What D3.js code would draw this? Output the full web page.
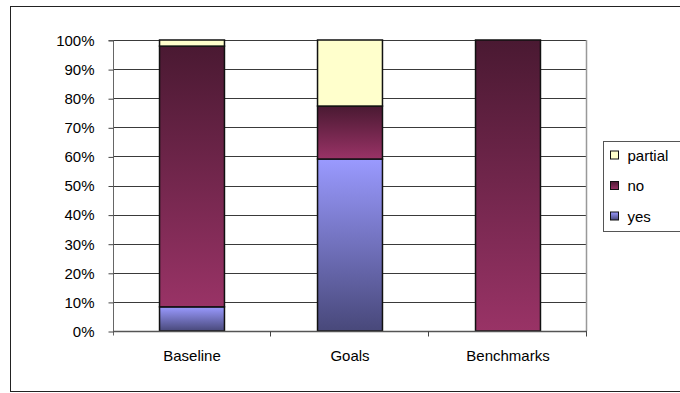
<!DOCTYPE html>
<html>
<head>
<meta charset="utf-8">
<script src="https://cdn.jsdelivr.net/npm/d3@7/dist/d3.min.js"></script>
<style>
  html, body { margin: 0; padding: 0; background: #fff; }
  svg { display: block; font-family: "Liberation Sans", Arial, sans-serif; }
</style>
</head>
<body>
<svg id="chart" width="680" height="393"></svg>
<script>
// Share of answers per section (percent, stacked to 100%)
const categories = ["Baseline", "Goals", "Benchmarks"];
const seriesNames = ["yes", "no", "partial"];
const yesValues = [8.3, 59.1, 0];
const noValues = [89.6, 18.2, 100];
const partialValues = [2.1, 22.7, 0];
const yTicks = [0, 10, 20, 30, 40, 50, 60, 70, 80, 90, 100];
const legendOrder = ["partial", "no", "yes"];

const rows = categories.map((c, i) => ({
  category: c, yes: yesValues[i], no: noValues[i], partial: partialValues[i]
}));

const svg = d3.select("#chart");
const plot = { left: 113, right: 587, top: 40, bottom: 331 };

// Chart frame
svg.append("rect")
  .attr("x", 10.5).attr("y", 6.5)
  .attr("width", 720).attr("height", 385)
  .attr("fill", "#fff").attr("stroke", "#222").attr("stroke-width", 1);

const defs = svg.append("defs");
const gradients = {
  yes: ["#9a9aff", "#48487a"],
  no: ["#4a1932", "#993366"]
};
Object.entries(gradients).forEach(([key, [top, bottom]]) => {
  const g = defs.append("linearGradient")
    .attr("id", "grad-" + key)
    .attr("x1", 0).attr("y1", 0).attr("x2", 0).attr("y2", 1);
  g.append("stop").attr("offset", "0%").attr("stop-color", top);
  g.append("stop").attr("offset", "100%").attr("stop-color", bottom);
});
const fillFor = key => key === "partial" ? "#ffffcc" : `url(#grad-${key})`;

const x = d3.scaleBand()
  .domain(categories)
  .range([plot.left, plot.right])
  .paddingInner(0.589)
  .paddingOuter(0.2945);

const y = d3.scaleLinear()
  .domain([0, 100])
  .range([plot.bottom, plot.top]);

// Horizontal gridlines
svg.append("g")
  .selectAll("line")
  .data(yTicks.slice(1))
  .join("line")
  .attr("x1", plot.left).attr("x2", plot.right - 1)
  .attr("y1", d => Math.round(y(d)) + 0.5)
  .attr("y2", d => Math.round(y(d)) + 0.5)
  .attr("stroke", "#3a3a3a").attr("stroke-width", 1);

// Right edge of plot area
svg.append("line")
  .attr("x1", plot.right - 0.5).attr("x2", plot.right - 0.5)
  .attr("y1", plot.top).attr("y2", plot.bottom)
  .attr("stroke", "#999").attr("stroke-width", 1.5);

// Stacked bars
const stack = d3.stack().keys(seriesNames);
const layers = stack(rows);

svg.append("g")
  .selectAll("g")
  .data(layers)
  .join("g")
  .attr("fill", d => fillFor(d.key))
  .selectAll("rect")
  .data(d => d.filter(s => s[1] - s[0] > 0))
  .join("rect")
  .attr("x", d => x(d.data.category))
  .attr("y", d => y(d[1]))
  .attr("width", x.bandwidth())
  .attr("height", d => y(d[0]) - y(d[1]))
  .attr("stroke", "#111")
  .attr("stroke-width", 1.5);

// Y axis
const yAxis = d3.axisLeft(y)
  .tickValues(yTicks)
  .tickSize(5)
  .tickPadding(14)
  .tickFormat(d => d + "%");
const yg = svg.append("g")
  .attr("transform", `translate(${plot.left + 0.5},0.5)`)
  .call(yAxis);
yg.select(".domain").attr("stroke", "#666").attr("d", `M-5,${plot.top}H0V${plot.bottom + 4}`);
yg.selectAll(".tick line").attr("stroke", "#444");
yg.selectAll(".tick text")
  .attr("font-size", 15).attr("fill", "#000")
  .attr("font-family", "Liberation Sans, Arial, sans-serif");

// X axis
const xAxis = d3.axisBottom(x).tickSize(0).tickPadding(19);
const xg = svg.append("g")
  .attr("transform", `translate(0,${plot.bottom + 0.5})`)
  .call(xAxis);
xg.select(".domain").attr("stroke", "#555").attr("stroke-width", 1.5)
  .attr("d", `M${plot.left},0H${plot.right}`);
xg.selectAll(".tick text")
  .attr("font-size", 15).attr("fill", "#000")
  .attr("font-family", "Liberation Sans, Arial, sans-serif");

// Category separator ticks
const boundaries = categories.slice(1).map(c => x(c) - x.step() * x.paddingInner() / 2).concat([plot.right]);
xg.append("g")
  .selectAll("line")
  .data(boundaries)
  .join("line")
  .attr("x1", d => Math.round(d) - 0.5).attr("x2", d => Math.round(d) - 0.5)
  .attr("y1", 0).attr("y2", 5)
  .attr("stroke", "#444");

// Legend
const legend = svg.append("g").attr("transform", "translate(603.5,141.5)");
legend.append("rect")
  .attr("width", 120).attr("height", 90)
  .attr("fill", "#fff").attr("stroke", "#555").attr("stroke-width", 1);
const items = legend.selectAll("g.item")
  .data(legendOrder)
  .join("g")
  .attr("class", "item")
  .attr("transform", (d, i) => `translate(7,${14 + i * 30.5})`);
items.append("rect")
  .attr("x", 0).attr("y", -4.5)
  .attr("width", 8).attr("height", 8)
  .attr("fill", d => fillFor(d))
  .attr("stroke", "#111").attr("stroke-width", 1);
items.append("text")
  .attr("x", 17).attr("y", 0)
  .attr("dy", "0.35em")
  .attr("font-size", 15)
  .text(d => d);
</script>
</body>
</html>
